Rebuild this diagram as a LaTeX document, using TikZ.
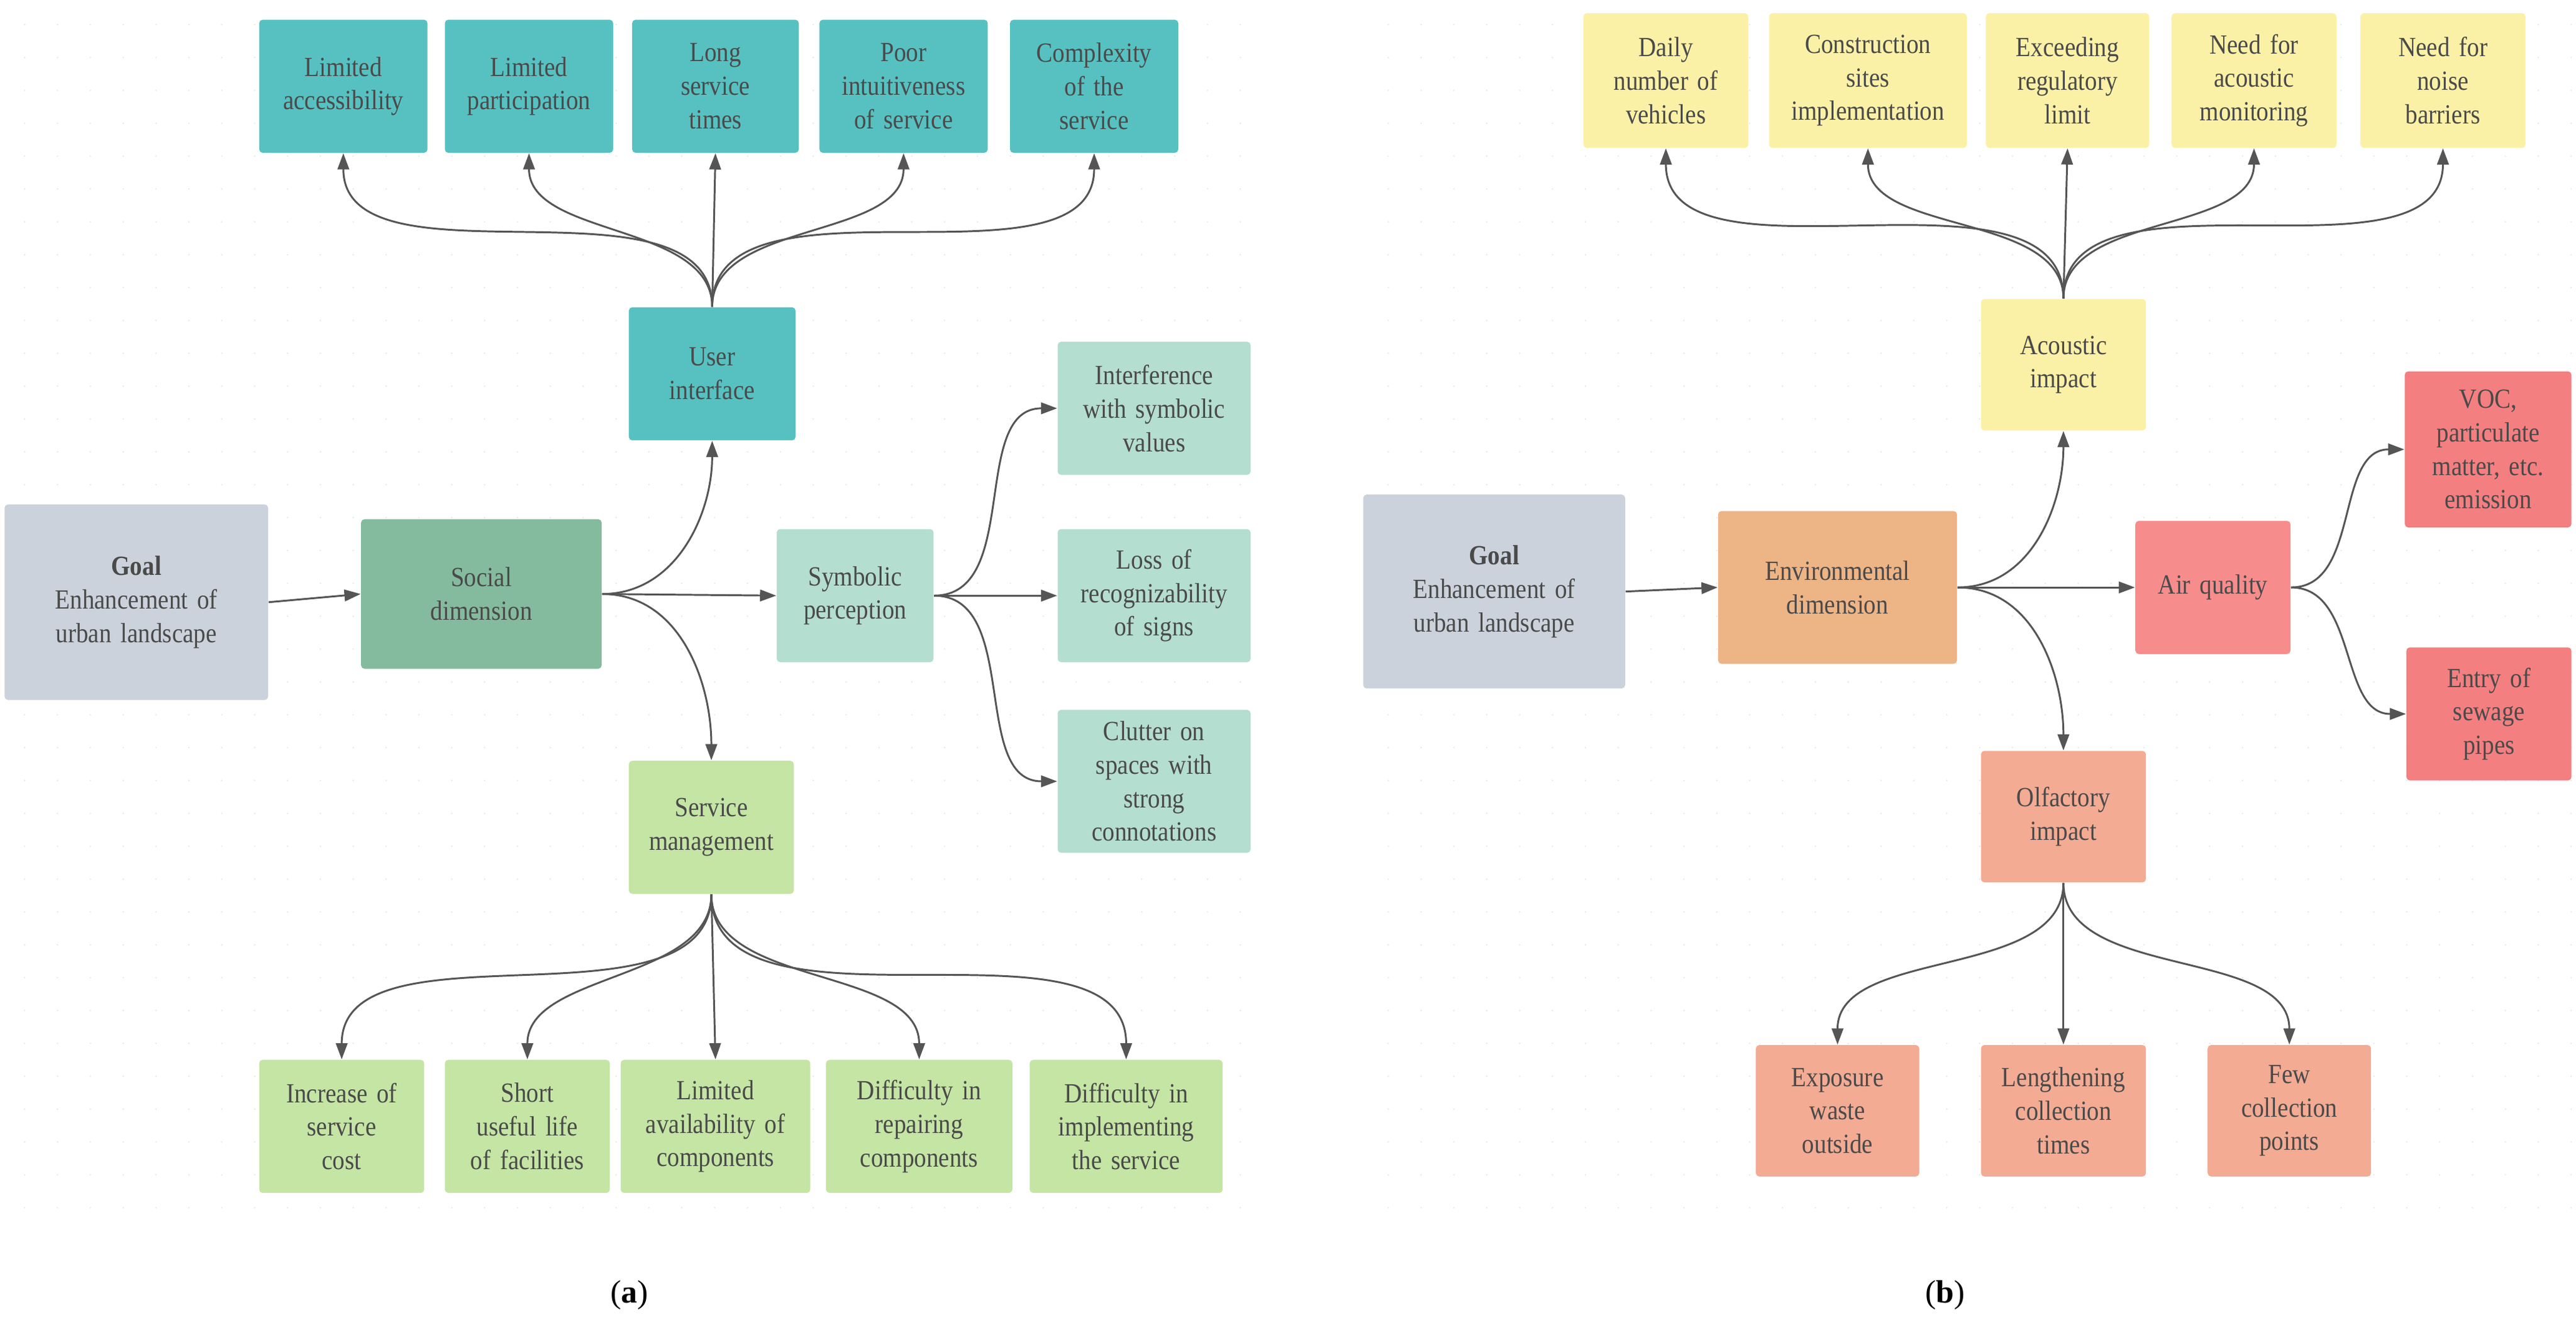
\documentclass[tikz,border=0pt]{standalone}
\usepackage{fontspec}
\setmainfont{Liberation Serif}[FakeStretch=0.88]
\newfontfamily\capfont{Liberation Serif}
\usetikzlibrary{arrows.meta}
\definecolor{teal1}{HTML}{57C1C1}
\definecolor{socg}{HTML}{84BB9E}
\definecolor{symb}{HTML}{B4DECF}
\definecolor{lgreen}{HTML}{C4E5A4}
\definecolor{goalc}{HTML}{CBD2DC}
\definecolor{yel}{HTML}{FBF1A6}
\definecolor{envc}{HTML}{EDB486}
\definecolor{airc}{HTML}{F78C8C}
\definecolor{vocc}{HTML}{F47F80}
\definecolor{olf}{HTML}{F3AB93}
\definecolor{txt}{HTML}{4A4A4A}
\definecolor{arr}{HTML}{555555}
\tikzset{
  box/.style={rounded corners=1.5pt, inner sep=0pt, align=center, text=txt,
    font=\fontsize{12}{14.5}\selectfont, draw=none},
  ar/.style={-{Triangle[length=7pt,width=5pt]}, draw=arr, line width=0.8pt},
}
\newcommand{\bx}[7]{\node[box, fill=#6, minimum width={(#4-#2)*0.025cm}, minimum height={(#5-#3)*0.025cm}, text width={(#4-#2)*0.025cm+6pt}] (#1) at ({(#2+#4)/2},{(#3+#5)/2}) {#7};}
\begin{document}
\begin{tikzpicture}[x=0.025cm,y=-0.025cm]
\useasboundingbox (0,0) rectangle (1568,809.4);
\fill[white] (0,0) rectangle (1568,809.4);
% dotted grid
\foreach \x in {15,35,...,765} \foreach \y in {15,35,...,735} \fill[gray!18] (\x,\y) circle (0.5);
\foreach \x in {845,865,...,1565} \foreach \y in {15,35,...,735} \fill[gray!18] (\x,\y) circle (0.5);
% ---------- panel a
\bx{a1}{162}{12}{256}{93}{teal1}{Limited\\accessibility}
\bx{a2}{275}{12}{369}{93}{teal1}{Limited\\participation}
\bx{a3}{389}{12}{482}{93}{teal1}{Long\\service\\times}
\bx{a4}{503}{12}{597}{93}{teal1}{Poor\\intuitiveness\\of service}
\bx{a5}{619}{12}{713}{93}{teal1}{Complexity\\of the\\service}
\bx{ui}{387}{187}{480}{268}{teal1}{User\\interface}
\bx{goala}{7}{307}{159}{426}{goalc}{\textbf{Goal}\\Enhancement of\\urban landscape}
\bx{soc}{224}{316}{362}{407}{socg}{Social\\dimension}
\bx{sym}{477}{322}{564}{403}{symb}{Symbolic\\perception}
\bx{s1}{648}{208}{757}{289}{symb}{Interference\\with symbolic\\values}
\bx{s2}{648}{322}{757}{403}{symb}{Loss of\\recognizability\\of signs}
\bx{s3}{648}{432}{757}{519}{symb}{Clutter on\\spaces with\\strong\\connotations}
\bx{sm}{387}{463}{479}{544}{lgreen}{Service\\management}
\bx{b1}{162}{645}{254}{726}{lgreen}{Increase of\\service\\cost}
\bx{b2}{275}{645}{367}{726}{lgreen}{Short\\useful life\\of facilities}
\bx{b3}{382}{645}{489}{726}{lgreen}{Limited\\availability of\\components}
\bx{b4}{507}{645}{612}{726}{lgreen}{Difficulty in\\repairing\\components}
\bx{b5}{631}{645}{740}{726}{lgreen}{Difficulty in\\implementing\\the service}
\draw[ar] (goala.east) -- (soc.west);
\draw[ar] (soc.east) to[out=0,in=-90] (ui.south);
\draw[ar] (soc.east) -- (sym.west);
\draw[ar] (soc.east) to[out=0,in=90] (sm.north);
\foreach \t in {a1,a2,a4,a5} \draw[ar] (ui.north) to[out=90,in=-90,looseness=0.9] (\t.south);
\draw[ar] (ui.north) -- (a3.south);
\draw[ar] (sym.east) to[out=0,in=180] (s1.west);
\draw[ar] (sym.east) -- (s2.west);
\draw[ar] (sym.east) to[out=0,in=180] (s3.west);
\foreach \t in {b1,b2,b4,b5} \draw[ar] (sm.south) to[out=-90,in=90,looseness=0.9] (\t.north);
\draw[ar] (sm.south) -- (b3.north);
\node[font=\capfont\fontsize{14}{16}\selectfont] (capa) at (383,788) {(\textbf{a})};
% ---------- panel b
\bx{c1}{968}{8}{1060}{90}{yel}{Daily\\number of\\vehicles}
\bx{c2}{1081}{8}{1193}{90}{yel}{Construction\\sites\\implementation}
\bx{c3}{1213}{8}{1304}{90}{yel}{Exceeding\\regulatory\\limit}
\bx{c4}{1326}{8}{1418}{90}{yel}{Need for\\acoustic\\monitoring}
\bx{c5}{1441}{8}{1533}{90}{yel}{Need for\\noise\\barriers}
\bx{ac}{1210}{182}{1302}{262}{yel}{Acoustic\\impact}
\bx{goalb}{834}{301}{985}{419}{goalc}{\textbf{Goal}\\Enhancement of\\urban landscape}
\bx{env}{1050}{311}{1187}{404}{envc}{Environmental\\dimension}
\bx{air}{1304}{317}{1390}{398}{airc}{Air quality}
\bx{voc}{1468}{226}{1561}{321}{vocc}{VOC,\\particulate\\matter, etc.\\emission}
\bx{ent}{1469}{394}{1561}{475}{vocc}{Entry of\\sewage\\pipes}
\bx{ol}{1210}{457}{1302}{537}{olf}{Olfactory\\impact}
\bx{d1}{1073}{636}{1164}{716}{olf}{Exposure\\waste\\outside}
\bx{d2}{1210}{636}{1302}{716}{olf}{Lengthening\\collection\\times}
\bx{d3}{1348}{636}{1439}{716}{olf}{Few\\collection\\points}
\draw[ar] (goalb.east) -- (env.west);
\draw[ar] (env.east) to[out=0,in=-90] (ac.south);
\draw[ar] (env.east) -- (air.west);
\draw[ar] (env.east) to[out=0,in=90] (ol.north);
\foreach \t in {c1,c2,c4,c5} \draw[ar] (ac.north) to[out=90,in=-90,looseness=0.9] (\t.south);
\draw[ar] (ac.north) -- (c3.south);
\draw[ar] (air.east) to[out=0,in=180] (voc.west);
\draw[ar] (air.east) to[out=0,in=180] (ent.west);
\draw[ar] (ol.south) to[out=-90,in=90,looseness=0.9] (d1.north);
\draw[ar] (ol.south) -- (d2.north);
\draw[ar] (ol.south) to[out=-90,in=90,looseness=0.9] (d3.north);
\node[font=\capfont\fontsize{14}{16}\selectfont] (capb) at (1184,788) {(\textbf{b})};
\end{tikzpicture}
\end{document}
